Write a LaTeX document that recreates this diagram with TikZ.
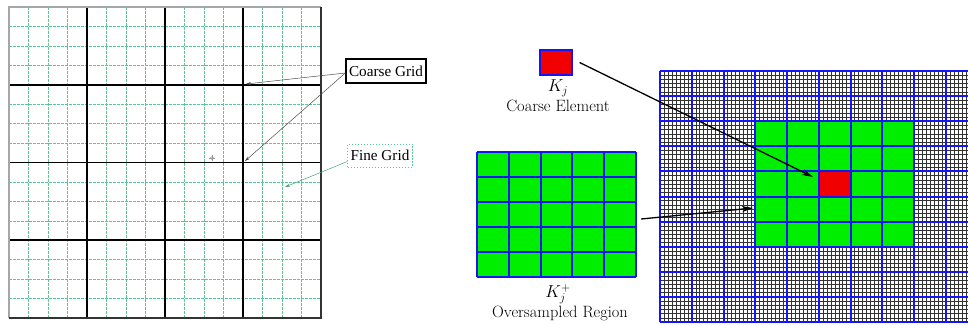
\documentclass[tikz,border=0pt]{standalone}
\usepackage{fontspec}
\newfontfamily\timesf{Liberation Serif}
\usetikzlibrary{arrows.meta}
\definecolor{fgc}{RGB}{90,200,150}
\definecolor{blc}{RGB}{20,20,245}
\definecolor{grc}{RGB}{0,238,0}
\definecolor{rdc}{RGB}{240,0,0}
\tikzset{
  fineline/.style={fgc, line width=0.6, dash pattern=on 3pt off 1pt},
  coarseline/.style={black, line width=1.6},
  cgbox/.style={draw=black, line width=1.4, inner xsep=3pt, minimum width=80, minimum height=24, font=\timesf\fontsize{15.2}{18}\selectfont},
  fgbox/.style={draw=fgc, line width=0.6, dash pattern=on 1.5pt off 1.5pt, inner xsep=3pt, minimum width=64, minimum height=23, font=\timesf\fontsize{15.2}{18}\selectfont},
  thinarrow/.style={line width=0.5, draw=black!70, -{Stealth[length=5pt,width=3pt]}},
  greenarrow/.style={line width=0.5, draw=fgc!80!black, -{Stealth[length=5pt,width=3pt]}},
  bigarrow/.style={line width=1.3, draw=black, -{Stealth[length=11pt,width=6pt]}},
  lab/.style={inner sep=0pt, font=\fontsize{16.4}{19}\selectfont},
  meshline/.style={black!80, line width=0.5},
  blueline/.style={blc, line width=2},
}
\begin{document}
\begin{tikzpicture}[x=1pt,y=-1pt]
\useasboundingbox (0,0) rectangle (968,324);
% ---------- left grid ----------
\foreach \i in {1,2,3,5,6,7,9,10,11,13,14,15}{
  \draw[fineline] ({9+\i*19.5},7) -- ({9+\i*19.5},318);
  \draw[fineline] (9,{7+\i*19.4375}) -- (321,{7+\i*19.4375});
}
\foreach \k in {1,2,3}{
  \draw[coarseline] ({9+\k*78},7) -- ({9+\k*78},318);
  \draw[coarseline] (9,{7+\k*77.75}) -- (321,{7+\k*77.75});
}
\draw[black!35, line width=1.6] (9,318) -- (9,7) -- (321,7);
\draw[black!80, line width=1.6] (321,7) -- (321,318) -- (9,318);
% crosshair mark
\draw[black!40, line width=0.4] (212,158) circle (1.5);
\draw[black!40, line width=0.4] (209,158) -- (215,158) (212,155) -- (212,161);
% labels
\node[cgbox] (cg) at (386,71) {Coarse Grid};
\node[fgbox] (fgl) at (380,155.5) {Fine Grid};
\coordinate (c1) at (246,84);
\coordinate (c2) at (245,161);
\coordinate (f1) at (285,187);
\draw[thinarrow] ([yshift=-2pt]cg.west) -- (c1);
\draw[thinarrow] ([yshift=-2pt]cg.west) -- (c2);
\draw[greenarrow] ([yshift=-6pt]fgl.west) -- (f1);
% ---------- right: coarse element ----------
\node[draw=blc, line width=1.2, fill=rdc, minimum width=32, minimum height=25, inner sep=0pt] (ke) at (556,62.5) {};
\node[lab] (kjl) at (558,88) {$K_j$};
\node[lab] (cel) at (558,106) {Coarse Element};
% ---------- oversampled region ----------
\node[fill=grc, minimum width=159, minimum height=125, inner sep=0pt] (os) at (556.5,214.5) {};
\foreach \k in {0,...,5}{
  \draw[blueline] ({477+\k*31.8},152) -- ({477+\k*31.8},277);
  \draw[blueline] (477,{152+\k*25}) -- (636,{152+\k*25});
}
\node[lab] (kjp) at (558,294) {$K_j^+$};
\node[lab] (osl) at (560,313) {Oversampled Region};
% ---------- big grid ----------
\begin{scope}
\clip (659,70) rectangle (968,323);
\foreach \i in {0,...,78}{
  \draw[meshline] ({660+\i*3.9725},71) -- ({660+\i*3.9725},322);
}
\foreach \j in {0,...,60}{
  \draw[meshline] (660,{71+\j*4.1833}) -- (968,{71+\j*4.1833});
}
\fill[grc] (755.34,121.2) rectangle (914.24,246.7);
\node[fill=rdc, minimum width=31.78, minimum height=25.1, inner sep=0pt] (kin) at (834.81,183.95) {};
\foreach \k in {0,...,9}{
  \draw[blueline] ({660+\k*31.78},71) -- ({660+\k*31.78},322);
}
\foreach \k in {0,...,10}{
  \draw[blueline] (660,{71+\k*25.1}) -- (968,{71+\k*25.1});
}
\end{scope}
% ---------- arrows ----------
\coordinate (t1) at (813,177);
\coordinate (t2) at (753,208);
\draw[bigarrow] ([xshift=7pt]ke.east) -- (t1);
\draw[bigarrow] ([xshift=5pt,yshift=-4.5pt]os.east) -- (t2);
\end{tikzpicture}
\end{document}
